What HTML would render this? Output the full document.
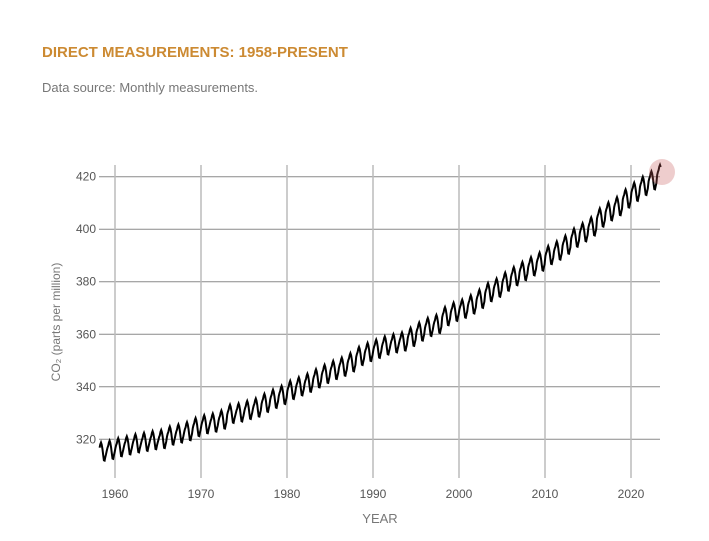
<!DOCTYPE html>
<html><head><meta charset="utf-8"><style>
body{margin:0;background:#fff;width:709px;height:541px;overflow:hidden;font-family:"Liberation Sans",Arial,sans-serif}
#t{position:absolute;left:42px;top:44px;font-size:15px;font-weight:bold;color:#cc8a32}
#s{position:absolute;left:42px;top:80px;font-size:13px;color:#777}
svg{position:absolute;left:0;top:0}
</style></head><body>
<div id="t">DIRECT MEASUREMENTS: 1958-PRESENT</div>
<div id="s">Data source: Monthly measurements.</div>
<svg id="c" width="709" height="541"></svg>
<script>
const startYear=1958;
const annualMeans=[315.3,315.98,316.91,317.64,318.45,318.99,319.62,320.04,321.37,322.18,323.05,324.62,325.68,326.32,327.46,329.68,330.19,331.13,332.03,333.84,335.41,336.84,338.76,340.12,341.48,343.15,344.87,346.35,347.61,349.31,351.69,353.20,354.45,355.70,356.54,357.21,358.96,360.97,362.74,363.88,366.84,368.54,369.71,371.32,373.45,375.98,377.70,379.98,382.09,384.02,385.83,387.64,390.10,391.85,394.06,396.74,398.81,401.01,404.41,406.76,408.72,411.66,414.24,416.45,418.56,421.0];
const seasonal=[-0.3,0.8,1.5,2.8,3.5,2.7,0.9,-1.3,-3.3,-3.4,-2.1,-1.0];
const xTicks=[1960,1970,1980,1990,2000,2010,2020];
const yTicks=[320,340,360,380,400,420];
const NS="http://www.w3.org/2000/svg";
const svg=document.getElementById('c');
const x=v=>115+(v-1960)*8.6;
const y=v=>439.3-(v-320)*2.626;
function el(t,a){const e=document.createElementNS(NS,t);for(const k in a)e.setAttribute(k,a[k]);svg.appendChild(e);return e;}
yTicks.forEach(v=>{
 const l=el('line',{x1:99,x2:660,y1:y(v),y2:y(v),stroke:'#8a8a8a','stroke-width':1});
 
 
 const t=el('text',{x:96,y:y(v)+4,'text-anchor':'end','font-size':12,fill:'#555'});t.textContent=v;
 
 
});
xTicks.forEach(v=>{
 const l=el('line',{x1:x(v),x2:x(v),y1:165,y2:478,stroke:'#bbb','stroke-width':1.5});
 
 
 const t=el('text',{x:x(v),y:498,'text-anchor':'middle','font-size':12,fill:'#555'});t.textContent=v;
 
 
});
let pts=[];
annualMeans.forEach((m,i)=>{
 for(let k=0;k<12;k++){
  if(i===0&&k<2)continue;
  if(i===annualMeans.length-1&&k>5)break;
  const yr=startYear+i+(k+0.5)/12;
  pts.push(x(yr).toFixed(1)+','+y(m+seasonal[k]).toFixed(1));
 }
});
const p=el('polyline',{points:pts.join(' '),fill:'none',stroke:'#000','stroke-width':2,'stroke-linejoin':'miter'});


const c=el('circle',{cx:662,cy:172,r:13,fill:'rgba(200,90,90,0.3)'});


const yt=el('text',{transform:'translate(60,322) rotate(-90)','text-anchor':'middle','font-size':12,fill:'#777'});
yt.textContent='CO₂ (parts per million)';


const xt=el('text',{x:380,y:523,'text-anchor':'middle','font-size':13,fill:'#777'});
xt.textContent='YEAR';


</script>
</body></html>
